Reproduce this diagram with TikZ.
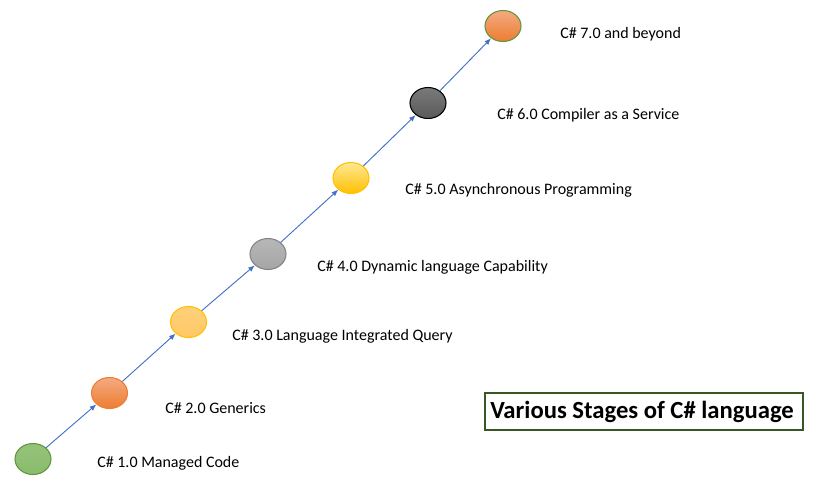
\documentclass[tikz,border=0pt]{standalone}
\usepackage{fontspec}
\setmainfont{Carlito}
\usetikzlibrary{arrows.meta,shapes.geometric}

\definecolor{linkblue}{RGB}{68,114,196}
\definecolor{grnfill}{RGB}{137,188,108}
\definecolor{grnline}{RGB}{98,150,60}
\definecolor{orgfill}{RGB}{237,125,49}
\definecolor{orgtop}{RGB}{244,170,130}
\definecolor{ylwfill}{RGB}{255,192,0}
\definecolor{ylwsoft}{RGB}{255,200,100}
\definecolor{ylwtop}{RGB}{255,232,150}
\definecolor{gryfill}{RGB}{165,165,165}
\definecolor{drkfill}{RGB}{89,89,89}
\definecolor{boxline}{RGB}{56,87,35}

\tikzset{
  stage/.style={ellipse, minimum width=36*0.75pt, minimum height=31*0.75pt, inner sep=0pt, line width=0.8pt},
  label/.style={anchor=west, inner sep=0pt, font=\fontsize{12}{14}\selectfont},
  link/.style={draw=linkblue, line width=0.7pt, -{Latex[length=5pt,width=4pt]}}
}

\begin{document}
\begin{tikzpicture}[x=0.75pt, y=-0.75pt]
      \useasboundingbox (0,0) rectangle (824,490);
      % the seven stages
      \node[stage, draw=grnline, top color=grnfill!90!white, bottom color=grnfill] (s1) at (33,459) {};
      \node[stage, draw=orgfill, top color=orgtop, bottom color=orgfill] (s2) at (109.5,393) {};
      \node[stage, draw=ylwfill, top color=ylwsoft!85!white, bottom color=ylwsoft] (s3) at (188.5,322) {};
      \node[stage, draw=gryfill!80!black, top color=gryfill!80!white, bottom color=gryfill] (s4) at (268,254) {};
      \node[stage, draw=ylwfill, top color=ylwtop, bottom color=ylwfill] (s5) at (351,178) {};
      \node[stage, draw=black, top color=drkfill!80!white, bottom color=drkfill] (s6) at (428,103) {};
      \node[stage, draw=grnline, top color=orgtop, bottom color=orgfill] (s7) at (503,26) {};
      % links
      \foreach \a/\b in {s1/s2, s2/s3, s3/s4, s4/s5, s5/s6, s6/s7}
        \draw[link] (\a) -- (\b);
      % texts
      \node[label] (t1) at (97,463) {C\# 1.0 Managed Code};
      \node[label] (t2) at (165,408) {C\# 2.0 Generics};
      \node[label] (t3) at (232,336) {C\# 3.0 Language Integrated Query};
      \node[label] (t4) at (317,267) {C\# 4.0 Dynamic language Capability};
      \node[label] (t5) at (405,190) {C\# 5.0 Asynchronous Programming};
      \node[label] (t6) at (497,115) {C\# 6.0 Compiler as a Service};
      \node[label] (t7) at (560,34) {C\# 7.0 and beyond};
      % title
      \draw[boxline, line width=0.8pt] (485,393) rectangle (803,430);
      \node[anchor=west, inner sep=0pt, font=\fontsize{18.5}{22}\selectfont\bfseries] (title) at (490,412) {Various Stages of C\# language};
\end{tikzpicture}
\end{document}
